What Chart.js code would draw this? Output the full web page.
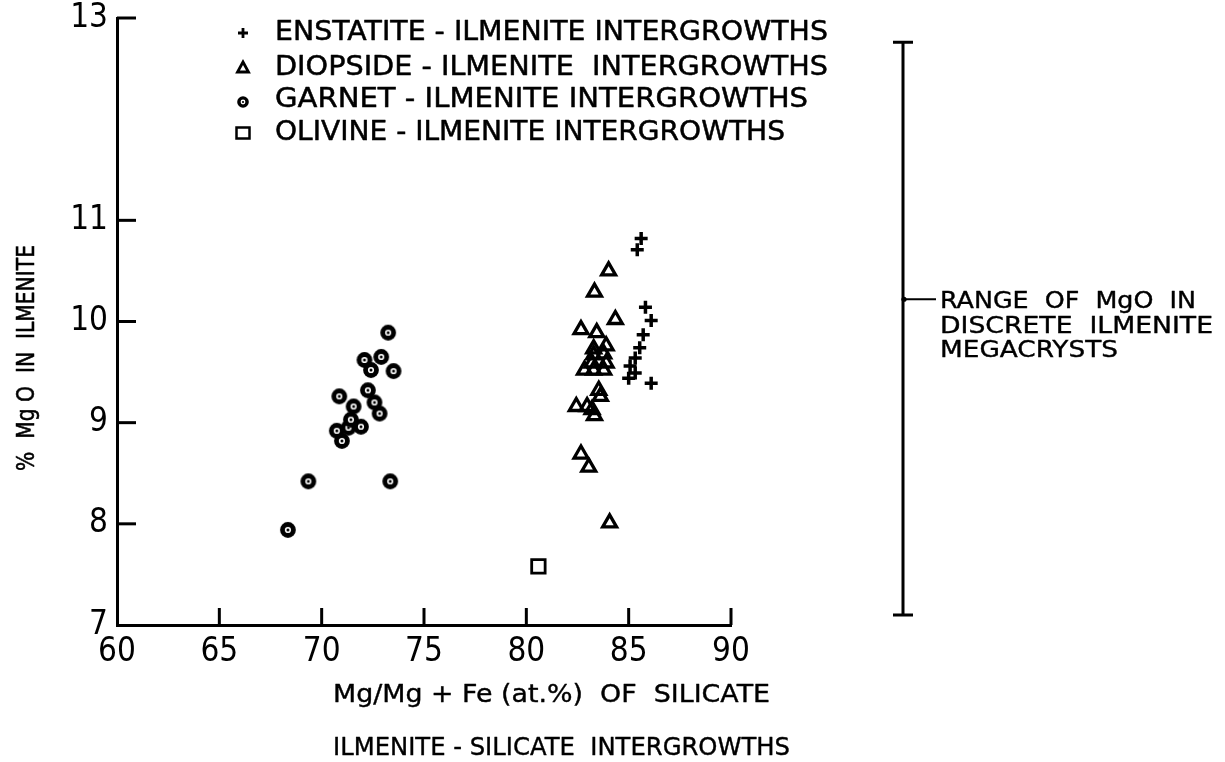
<!DOCTYPE html>
<html>
<head>
<meta charset="utf-8">
<script src="https://cdn.jsdelivr.net/npm/chart.js@4.4.1/dist/chart.umd.min.js"></script>
<style>
  html, body { margin: 0; padding: 0; background: #fff; }
  #wrap { width: 1225px; height: 762px; }
</style>
</head>
<body>
<div id="wrap"><canvas id="chart" width="1225" height="762"></canvas></div>
<script>
// ---- data ----
const xTicks = [60, 65, 70, 75, 80, 85, 90];
const yTicks = [7, 8, 9, 10, 11, 13];

const enstatite = [
  [85.61, 10.82], [85.42, 10.71], [85.82, 10.14], [86.10, 10.01],
  [85.71, 9.87], [85.54, 9.74], [85.32, 9.64], [85.07, 9.56],
  [85.32, 9.49], [85.00, 9.44], [86.10, 9.39]
];
const diopside = [
  [84.02, 10.50], [83.33, 10.29], [84.35, 10.02], [82.67, 9.92],
  [83.44, 9.89], [83.29, 9.73], [83.90, 9.76], [83.78, 9.68],
  [83.29, 9.67], [83.90, 9.59], [83.21, 9.59], [82.84, 9.52],
  [83.29, 9.52], [83.78, 9.52], [83.54, 9.32], [83.62, 9.26],
  [82.44, 9.16], [82.97, 9.16], [83.21, 9.13], [83.33, 9.07],
  [82.67, 8.69], [83.05, 8.56], [84.07, 8.01]
];
const garnet = [
  [68.35, 7.94], [69.35, 8.42], [73.35, 8.42], [70.99, 8.82],
  [70.74, 8.92], [71.31, 8.95], [71.92, 8.96], [71.43, 9.03],
  [71.56, 9.16], [70.86, 9.26], [72.83, 9.09], [72.58, 9.20],
  [72.26, 9.32], [72.09, 9.62], [72.91, 9.65], [72.41, 9.52],
  [73.51, 9.51], [73.25, 9.89]
];
const olivine = [[80.59, 7.58]];

// range of MgO in discrete ilmenite megacrysts
const megacrystRange = [7.10, 12.76];
const megacrystMark = 10.22;

const legendLabels = [
  'ENSTATITE - ILMENITE INTERGROWTHS',
  'DIOPSIDE - ILMENITE  INTERGROWTHS',
  'GARNET - ILMENITE INTERGROWTHS',
  'OLIVINE - ILMENITE INTERGROWTHS'
];
const rangeLabel = ['RANGE  OF  MgO  IN', 'DISCRETE  ILMENITE', 'MEGACRYSTS'];
const xTitle = ['Mg/Mg + Fe (at.%)  OF  SILICATE', 'ILMENITE - SILICATE  INTERGROWTHS'];
const yTitle = '%  Mg O  IN  ILMENITE';

// ---- fonts ----
function pickFont(cands, size) {
  const g = document.createElement('canvas').getContext('2d');
  for (const f of cands) {
    g.font = size + 'px "' + f + '", monospace';
    const a = g.measureText('60 65 70 WWii').width;
    g.font = size + 'px monospace';
    const b = g.measureText('60 65 70 WWii').width;
    if (Math.abs(a - b) > 0.5) return f;
  }
  return 'DejaVu Sans';
}
const NUM_FONT = pickFont(['Liberation Sans Narrow', 'DejaVu Sans Condensed'], 30);
const TXT_FONT = 'DejaVu Sans';

// ---- markers ----
function ringMarker(R, hole, dot) {
  const s = Math.ceil(R * 2 + 2);
  const cv = document.createElement('canvas');
  cv.width = cv.height = s;
  const g = cv.getContext('2d');
  const c = s / 2;
  g.fillStyle = '#000';
  g.beginPath(); g.arc(c, c, R, 0, Math.PI * 2); g.fill();
  g.fillStyle = '#fff';
  g.beginPath(); g.arc(c, c, hole, 0, Math.PI * 2); g.fill();
  g.fillStyle = '#000';
  g.beginPath(); g.arc(c, c, dot, 0, Math.PI * 2); g.fill();
  return cv;
}
const garnetMark = ringMarker(7.9, 3.1, 1.5);
const garnetLegendMark = ringMarker(5.8, 2.4, 1.1);

const toXY = arr => arr.map(p => ({ x: p[0], y: p[1] }));

// text drawn to a given width (horizontal scale), slightly heavier stroke
function fitText(ctx, text, x, y, width, font, heavy) {
  ctx.save();
  ctx.font = font;
  const w = ctx.measureText(text).width;
  const sx = width / w;
  ctx.translate(x, y);
  ctx.scale(sx, 1);
  ctx.fillText(text, 0, 0);
  if (heavy) {
    ctx.lineWidth = heavy;
    ctx.lineJoin = 'round';
    ctx.strokeText(text, 0, 0);
  }
  ctx.restore();
}

// inward tick marks, axis titles, legend and range bar
const decorations = {
  id: 'decorations',
  afterDraw(chart) {
    const ctx = chart.ctx;
    const xs = chart.scales.x, ys = chart.scales.y;
    const area = chart.chartArea;
    ctx.save();
    ctx.strokeStyle = '#000';
    ctx.fillStyle = '#000';
    ctx.lineCap = 'butt';

    // inward ticks
    ctx.lineWidth = 3;
    ys.ticks.forEach(t => {
      const py = ys.getPixelForValue(t.value);
      if (t.value === ys.min) return;
      ctx.beginPath(); ctx.moveTo(area.left, py); ctx.lineTo(area.left + 19, py); ctx.stroke();
    });
    xs.ticks.forEach(t => {
      const px = xs.getPixelForValue(t.value);
      if (t.value === xs.min) return;
      ctx.beginPath(); ctx.moveTo(px, area.bottom); ctx.lineTo(px, area.bottom - 17); ctx.stroke();
    });

    // axis titles
    ctx.textBaseline = 'middle';
    ctx.textAlign = 'left';
    fitText(ctx, xTitle[0], 333, 695, 437, '25px "' + TXT_FONT + '"', 0.4);
    fitText(ctx, xTitle[1], 333, 748, 457, '25px "' + TXT_FONT + '"', 0.4);
    ctx.save();
    ctx.translate(28, 471);
    ctx.rotate(-Math.PI / 2);
    fitText(ctx, yTitle, 0, 0, 226, '24px "' + TXT_FONT + '"', 0.5);
    ctx.restore();

    // legend
    const rows = [33, 68, 100, 133];
    const widths = [553, 553, 533, 510];
    const sx = 243;
    ctx.lineWidth = 2.8;
    // cross
    ctx.beginPath();
    ctx.moveTo(sx - 5, rows[0]); ctx.lineTo(sx + 5, rows[0]);
    ctx.moveTo(sx, rows[0] - 5); ctx.lineTo(sx, rows[0] + 5);
    ctx.stroke();
    // triangle
    ctx.beginPath();
    ctx.moveTo(sx, rows[1] - 6); ctx.lineTo(sx + 5.5, rows[1] + 4); ctx.lineTo(sx - 5.5, rows[1] + 4);
    ctx.closePath(); ctx.stroke();
    // ring
    ctx.drawImage(garnetLegendMark, sx - garnetLegendMark.width / 2, rows[2] + 2 - garnetLegendMark.height / 2);
    // square
    ctx.lineWidth = 2.5;
    ctx.strokeRect(sx - 6.5, rows[3] - 5.5, 13, 11);
    rows.forEach((ry, i) => fitText(ctx, legendLabels[i], 275, ry, widths[i], '27px "' + TXT_FONT + '"', 0.5));

    // megacryst range bar
    const bx = 903;
    const yTop = ys.getPixelForValue(megacrystRange[1]);
    const yBot = ys.getPixelForValue(megacrystRange[0]);
    const yMid = ys.getPixelForValue(megacrystMark);
    ctx.lineWidth = 3;
    ctx.beginPath();
    ctx.moveTo(bx, yTop); ctx.lineTo(bx, yBot);
    ctx.moveTo(bx - 10, yTop); ctx.lineTo(bx + 10, yTop);
    ctx.moveTo(bx - 10, yBot); ctx.lineTo(bx + 10, yBot);
    ctx.stroke();
    ctx.lineWidth = 2;
    ctx.beginPath(); ctx.moveTo(bx, yMid); ctx.lineTo(bx + 33, yMid); ctx.stroke();
    ctx.beginPath(); ctx.arc(bx + 1, yMid, 2.6, 0, Math.PI * 2); ctx.fill();
    const rw = [256, 273, 178];
    rangeLabel.forEach((t, i) => fitText(ctx, t, 940, yMid + 3 + i * 24.5, rw[i], '23px "' + TXT_FONT + '"', 0.4));

    ctx.restore();
  }
};

const tickFont = { family: NUM_FONT, size: 33 };

new Chart(document.getElementById('chart'), {
  type: 'scatter',
  data: {
    datasets: [
      { label: legendLabels[0], data: toXY(enstatite), pointStyle: 'cross', pointRadius: 6.5,
        borderColor: '#000', backgroundColor: '#000', pointBorderWidth: 3.5 },
      { label: legendLabels[1], data: toXY(diopside), pointStyle: 'triangle', pointRadius: 8,
        borderColor: '#000', backgroundColor: 'rgba(0,0,0,0)', pointBorderWidth: 3.3 },
      { label: legendLabels[2], data: toXY(garnet), pointStyle: garnetMark, pointRadius: 8,
        borderColor: '#000', backgroundColor: '#000' },
      { label: legendLabels[3], data: toXY(olivine), pointStyle: 'rect', pointRadius: 9.5,
        borderColor: '#000', backgroundColor: 'rgba(0,0,0,0)', pointBorderWidth: 2.8 }
    ]
  },
  options: {
    responsive: false,
    animation: false,
    layout: { padding: { top: 18, right: 494, left: 0, bottom: 0 } },
    plugins: { legend: { display: false }, tooltip: { enabled: false } },
    scales: {
      x: {
        type: 'linear', min: 60, max: 90,
        afterBuildTicks: s => { s.ticks = xTicks.map(v => ({ value: v })); },
        afterFit: s => { s.height = 137; s.paddingLeft = 0; s.paddingRight = 0; },
        grid: { display: false, drawTicks: false },
        border: { display: true, color: '#000', width: 3 },
        ticks: { padding: 8, color: '#000', font: tickFont, maxRotation: 0 }
      },
      y: {
        type: 'linear', min: 7, max: 13,
        afterBuildTicks: s => { s.ticks = yTicks.map(v => ({ value: v })); },
        afterFit: s => { s.width = 117; s.paddingTop = 0; s.paddingBottom = 0; },
        grid: { display: false, drawTicks: false },
        border: { display: true, color: '#000', width: 3 },
        ticks: { padding: 9, color: '#000', font: tickFont }
      }
    }
  },
  plugins: [decorations]
});
</script>
</body>
</html>
